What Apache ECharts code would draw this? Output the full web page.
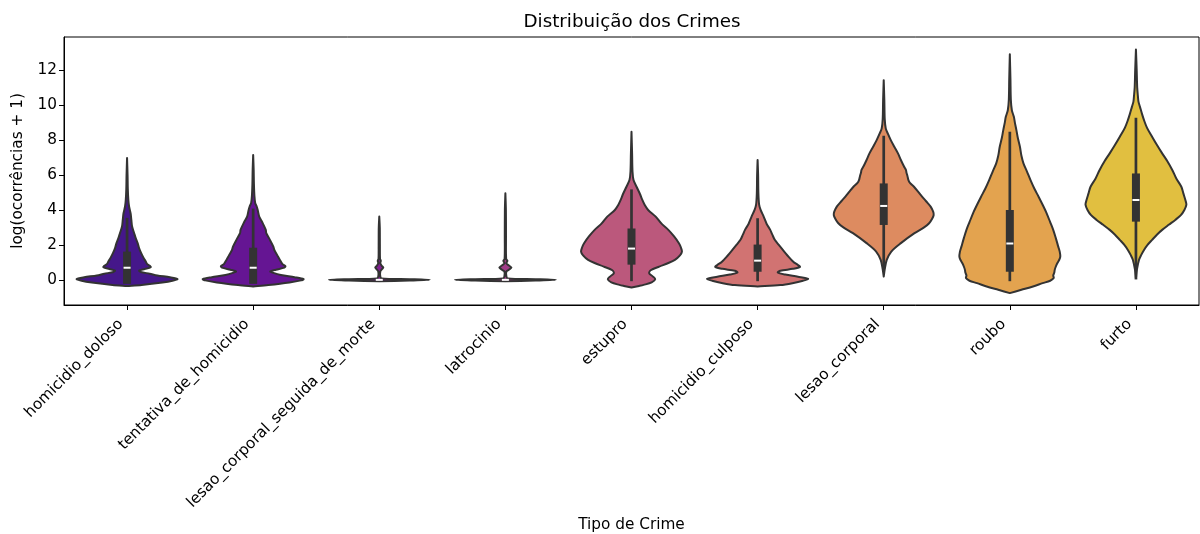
<!DOCTYPE html>
<html>
<head>
<meta charset="utf-8">
<script src="https://cdn.jsdelivr.net/npm/echarts@6/dist/echarts.min.js"></script>
<style>
  html, body { margin: 0; padding: 0; background: #ffffff; }
  #chart { width: 1200px; height: 534px; }
</style>
</head>
<body>
<div id="chart"></div>
<script>
// Crime types on the x axis
const categories = [
  'homicidio_doloso', 'tentativa_de_homicidio', 'lesao_corporal_seguida_de_morte',
  'latrocinio', 'estupro', 'homicidio_culposo', 'lesao_corporal', 'roubo', 'furto'
];
const yTicks = [0, 2, 4, 6, 8, 10, 12];

// Density profiles: [log(ocorrências + 1), relative density (1 = widest)]
const kde_homicidio_doloso = [
  [-0.35, 0], [-0.29, 0.29], [-0.15, 0.7], [-0.05, 0.9], [0.05, 1.0], [0.15, 0.85], [0.25, 0.6],
  [0.35, 0.45], [0.45, 0.27], [0.53, 0.24], [0.62, 0.35], [0.72, 0.47], [0.8, 0.45], [0.9, 0.4],
  [1.05, 0.37], [1.3, 0.32], [1.53, 0.28], [1.8, 0.24], [2.1, 0.21], [2.4, 0.17], [2.68, 0.14],
  [3.05, 0.1], [3.43, 0.085], [3.81, 0.07], [4.2, 0.04], [4.6, 0.025], [5.2, 0.015], [6.0, 0.01], [6.97, 0]
];
const kde_tentativa_de_homicidio = [
  [-0.38, 0], [-0.3, 0.3], [-0.15, 0.72], [-0.03, 0.95], [0.04, 1.0], [0.15, 0.82], [0.28, 0.55],
  [0.4, 0.4], [0.48, 0.34], [0.58, 0.45], [0.7, 0.62], [0.78, 0.64], [0.9, 0.58], [1.14, 0.53],
  [1.4, 0.48], [1.71, 0.42], [1.9, 0.4], [2.3, 0.33], [2.67, 0.26], [2.86, 0.25], [3.3, 0.18],
  [3.62, 0.12], [4.0, 0.09], [4.2, 0.07], [4.4, 0.04], [4.8, 0.025], [5.5, 0.015], [6.3, 0.01], [7.14, 0]
];
const kde_lesao_corporal_seguida_de_morte = [
  [-0.08, 0], [-0.04, 0.6], [0, 1.0], [0.04, 0.6], [0.08, 0.05], [0.2, 0.02], [0.48, 0.02],
  [0.6, 0.05], [0.7, 0.08], [0.8, 0.05], [0.95, 0.02], [1.09, 0.03], [1.2, 0.015], [2.0, 0.012],
  [3.0, 0.01], [3.62, 0]
];
const kde_latrocinio = [
  [-0.08, 0], [-0.04, 0.6], [0, 1.0], [0.04, 0.6], [0.08, 0.05], [0.2, 0.02], [0.48, 0.02],
  [0.58, 0.07], [0.7, 0.12], [0.82, 0.07], [0.95, 0.02], [1.09, 0.04], [1.2, 0.015], [2.5, 0.012],
  [4.0, 0.01], [4.95, 0]
];
const kde_estupro = [
  [-0.44, 0], [-0.35, 0.15], [-0.29, 0.24], [-0.15, 0.4], [0.04, 0.47], [0.2, 0.42], [0.38, 0.35],
  [0.55, 0.38], [0.76, 0.55], [0.95, 0.72], [1.14, 0.86], [1.4, 0.96], [1.62, 1.0], [1.85, 0.98],
  [2.1, 0.94], [2.5, 0.84], [2.86, 0.73], [3.2, 0.6], [3.62, 0.48], [4.0, 0.33], [4.3, 0.26],
  [4.6, 0.21], [4.9, 0.17], [5.33, 0.1], [5.71, 0.04], [6.2, 0.02], [7.2, 0.012], [8.48, 0]
];
const kde_homicidio_culposo = [
  [-0.38, 0], [-0.3, 0.45], [-0.19, 0.69], [-0.05, 0.9], [0.06, 1.0], [0.18, 0.8], [0.3, 0.55],
  [0.42, 0.4], [0.52, 0.45], [0.63, 0.7], [0.74, 0.84], [0.85, 0.8], [1.0, 0.72], [1.14, 0.67],
  [1.3, 0.62], [1.5, 0.56], [1.71, 0.5], [2.0, 0.42], [2.29, 0.34], [2.6, 0.29], [2.86, 0.25],
  [3.2, 0.18], [3.62, 0.12], [4.0, 0.06], [4.3, 0.03], [5.0, 0.015], [6.0, 0.01], [6.86, 0]
];
const kde_lesao_corporal = [
  [0.19, 0], [0.6, 0.02], [1.14, 0.06], [1.62, 0.15], [2.1, 0.34], [2.67, 0.61], [3.0, 0.8],
  [3.24, 0.9], [3.5, 0.96], [3.71, 0.99], [3.9, 0.98], [4.19, 0.93], [4.5, 0.84], [4.76, 0.76],
  [5.05, 0.68], [5.33, 0.6], [5.55, 0.52], [5.71, 0.49], [5.95, 0.47], [6.15, 0.45], [6.29, 0.44],
  [6.5, 0.4], [6.86, 0.34], [7.25, 0.28], [7.62, 0.21], [8.0, 0.14], [8.38, 0.08], [8.67, 0.04],
  [9.2, 0.02], [10.3, 0.012], [11.43, 0]
];
const kde_roubo = [
  [-0.76, 0], [-0.57, 0.23], [-0.38, 0.46], [-0.19, 0.65], [-0.05, 0.8], [0.1, 0.87],
  [0.25, 0.86], [0.4, 0.88], [0.57, 0.89], [0.75, 0.91], [0.95, 0.94], [1.15, 0.98], [1.33, 1.0],
  [1.6, 0.99], [1.9, 0.96], [2.4, 0.91], [2.86, 0.86], [3.3, 0.8], [3.81, 0.73], [4.3, 0.65],
  [4.76, 0.57], [5.2, 0.49], [5.71, 0.41], [6.2, 0.34], [6.67, 0.27], [7.1, 0.23], [7.62, 0.2],
  [8.1, 0.16], [8.57, 0.13], [9.0, 0.1], [9.33, 0.08], [9.71, 0.04], [10.3, 0.02], [11.5, 0.012], [12.91, 0]
];
const kde_furto = [
  [0.1, 0], [0.6, 0.02], [1.14, 0.06], [1.4, 0.1], [1.71, 0.16], [2.0, 0.23], [2.29, 0.32],
  [2.6, 0.42], [2.86, 0.52], [3.15, 0.65], [3.43, 0.78], [3.7, 0.89], [4.0, 0.96], [4.3, 1.0],
  [4.57, 0.98], [4.95, 0.94], [5.33, 0.9], [5.8, 0.8], [6.29, 0.72], [6.8, 0.62], [7.24, 0.52],
  [7.7, 0.42], [8.19, 0.32], [8.7, 0.22], [9.14, 0.16], [9.5, 0.12], [9.9, 0.08], [10.2, 0.05],
  [10.48, 0.04], [11.0, 0.025], [12.0, 0.015], [13.18, 0]
];

// Quartiles and whisker ends per crime type
const q1 = [0, 0, 0, 0, 1.099, 0.693, 3.37, 0.693, 3.56];
const medians = [0.693, 0.693, 0, 0, 1.79, 1.099, 4.23, 2.08, 4.57];
const q3 = [1.386, 1.609, 0, 0, 2.71, 1.79, 5.29, 3.77, 5.86];
const whiskerLow = [0, 0, 0, 0, 0, 0, 0.69, 0, 0.1];
const whiskerHigh = [3.47, 4.0, 0, 0, 5.1, 3.45, 8.17, 8.4, 9.2];

const profiles = [
  kde_homicidio_doloso, kde_tentativa_de_homicidio, kde_lesao_corporal_seguida_de_morte,
  kde_latrocinio, kde_estupro, kde_homicidio_culposo, kde_lesao_corporal, kde_roubo, kde_furto
];

// plasma palette, softened
const fills = ['#45178a', '#651593', '#812091', '#a03b87', '#bb587c', '#d17372', '#dd8b60', '#e3a34f', '#e1bf40'];
const EDGE = '#333333';
const FONT = 'DejaVu Sans';

function renderViolin(params, api) {
  const i = api.value(0);
  const band = api.size([1, 0])[0];
  const half = band * 0.4;
  const cx = api.coord([i, 0])[0];
  const prof = profiles[i];
  const pts = [];
  prof.forEach(p => pts.push([cx + p[1] * half, api.coord([i, p[0]])[1]]));
  for (let k = prof.length - 1; k >= 0; k--) {
    const p = prof[k];
    pts.push([cx - p[1] * half, api.coord([i, p[0]])[1]]);
  }
  const boxW = 8, whisW = 2.7;
  const yq1 = api.coord([i, q1[i]])[1], yq3 = api.coord([i, q3[i]])[1];
  const ywl = api.coord([i, whiskerLow[i]])[1], ywh = api.coord([i, whiskerHigh[i]])[1];
  const ymed = api.coord([i, medians[i]])[1];
  const children = [{
    type: 'polygon',
    shape: { points: pts, smooth: 0.3 },
    style: { fill: fills[i], stroke: EDGE, lineWidth: 2, lineJoin: 'round' }
  }];
  // inner box only where the quartiles spread apart
  if (q3[i] > q1[i]) {
    children.push({
      type: 'rect',
      shape: { x: cx - whisW / 2, y: ywh - whisW / 2, width: whisW, height: ywl - ywh + whisW },
      style: { fill: EDGE }
    }, {
      type: 'rect',
      shape: { x: cx - boxW / 2, y: yq3 - boxW / 2, width: boxW, height: yq1 - yq3 + boxW },
      style: { fill: EDGE }
    });
  }
  children.push({
    type: 'rect',
    shape: { x: cx - 3.5, y: ymed - 1, width: 7, height: 2 },
    style: { fill: '#ffffff' }
  });
  return { type: 'group', children };
}

const chart = echarts.init(document.getElementById('chart'), null, { renderer: 'canvas' });
chart.setOption({
  animation: false,
  backgroundColor: '#ffffff',
  title: {
    text: 'Distribuição dos Crimes',
    left: 632,
    top: 13,
    padding: 0,
    textAlign: 'center',
    textStyle: { fontFamily: FONT, fontSize: 18.3, fontWeight: 'normal', color: '#000' }
  },
  grid: {
    left: 64, right: 1, top: 37, bottom: 229,
    outerBoundsMode: 'none',
    containLabel: false,
    show: true, borderColor: '#000', borderWidth: 1, backgroundColor: 'transparent'
  },
  xAxis: {
    type: 'category',
    data: categories,
    boundaryGap: true,
    name: 'Tipo de Crime',
    nameLocation: 'middle',
    nameGap: 213,
    nameTextStyle: { fontFamily: FONT, fontSize: 15.3, color: '#000' },
    axisLine: { show: true, onZero: false, lineStyle: { color: '#000', width: 1 } },
    axisTick: { show: true, alignWithLabel: true, length: 5, lineStyle: { color: '#000', width: 1 } },
    axisLabel: {
      interval: 0, rotate: 45, margin: 10.5, padding: [0, 9, 0, 0],
      fontFamily: FONT, fontSize: 15.3, color: '#000'
    },
    splitLine: { show: false }
  },
  yAxis: {
    type: 'value',
    min: -1.44,
    max: 13.9,
    name: 'log(ocorrências + 1)',
    nameLocation: 'middle',
    nameGap: 38,
    nameTextStyle: { fontFamily: FONT, fontSize: 15.3, color: '#000' },
    axisLine: { show: true, onZero: false, lineStyle: { color: '#000', width: 1 } },
    axisTick: { show: true, length: 5, customValues: yTicks, lineStyle: { color: '#000', width: 1 } },
    axisLabel: { customValues: yTicks, margin: 7, fontFamily: FONT, fontSize: 15.3, color: '#000' },
    splitLine: { show: false }
  },
  series: [{
    type: 'custom',
    renderItem: renderViolin,
    clip: false,
    encode: { x: 0, y: 1 },
    data: categories.map((c, i) => [i, medians[i]])
  }]
});
</script>
</body>
</html>
